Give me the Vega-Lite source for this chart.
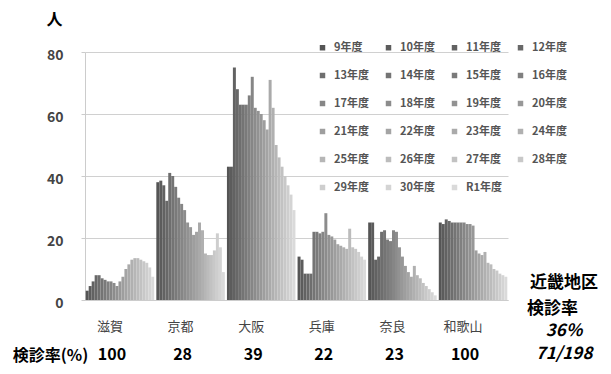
{
  "$schema": "https://vega.github.io/schema/vega-lite/v6.json",
  "width": 423,
  "height": 248,
  "autosize": {"type": "none"},
  "padding": {"left": 85, "top": 52, "right": 103, "bottom": 74},
  "background": "white",
  "config": {"font": "Noto Sans CJK JP", "view": {"stroke": null}},
  "datasets": {
    "counts": [
      {"pref":"滋賀","year":"9年度","v":3},{"pref":"滋賀","year":"10年度","v":4.5},{"pref":"滋賀","year":"11年度","v":6},{"pref":"滋賀","year":"12年度","v":8},{"pref":"滋賀","year":"13年度","v":8},{"pref":"滋賀","year":"14年度","v":7},{"pref":"滋賀","year":"15年度","v":6.5},{"pref":"滋賀","year":"16年度","v":6},{"pref":"滋賀","year":"17年度","v":6},{"pref":"滋賀","year":"18年度","v":5.5},{"pref":"滋賀","year":"19年度","v":4.5},{"pref":"滋賀","year":"20年度","v":6},{"pref":"滋賀","year":"21年度","v":7.5},{"pref":"滋賀","year":"22年度","v":10},{"pref":"滋賀","year":"23年度","v":11.5},{"pref":"滋賀","year":"24年度","v":13},{"pref":"滋賀","year":"25年度","v":13.5},{"pref":"滋賀","year":"26年度","v":13.5},{"pref":"滋賀","year":"27年度","v":13},{"pref":"滋賀","year":"28年度","v":12.5},{"pref":"滋賀","year":"29年度","v":12},{"pref":"滋賀","year":"30年度","v":10.5},{"pref":"滋賀","year":"R1年度","v":7.5},
      {"pref":"京都","year":"9年度","v":38},{"pref":"京都","year":"10年度","v":38.5},{"pref":"京都","year":"11年度","v":37},{"pref":"京都","year":"12年度","v":32},{"pref":"京都","year":"13年度","v":41},{"pref":"京都","year":"14年度","v":40},{"pref":"京都","year":"15年度","v":36.5},{"pref":"京都","year":"16年度","v":33},{"pref":"京都","year":"17年度","v":31},{"pref":"京都","year":"18年度","v":29},{"pref":"京都","year":"19年度","v":25},{"pref":"京都","year":"20年度","v":23.5},{"pref":"京都","year":"21年度","v":21},{"pref":"京都","year":"22年度","v":22},{"pref":"京都","year":"23年度","v":25},{"pref":"京都","year":"24年度","v":22.5},{"pref":"京都","year":"25年度","v":15},{"pref":"京都","year":"26年度","v":14.5},{"pref":"京都","year":"27年度","v":14.5},{"pref":"京都","year":"28年度","v":16},{"pref":"京都","year":"29年度","v":21.5},{"pref":"京都","year":"30年度","v":17},{"pref":"京都","year":"R1年度","v":9},
      {"pref":"大阪","year":"9年度","v":43},{"pref":"大阪","year":"10年度","v":43},{"pref":"大阪","year":"11年度","v":75},{"pref":"大阪","year":"12年度","v":68},{"pref":"大阪","year":"13年度","v":63},{"pref":"大阪","year":"14年度","v":63},{"pref":"大阪","year":"15年度","v":63},{"pref":"大阪","year":"16年度","v":66},{"pref":"大阪","year":"17年度","v":72},{"pref":"大阪","year":"18年度","v":62},{"pref":"大阪","year":"19年度","v":61},{"pref":"大阪","year":"20年度","v":60},{"pref":"大阪","year":"21年度","v":58},{"pref":"大阪","year":"22年度","v":55},{"pref":"大阪","year":"23年度","v":71},{"pref":"大阪","year":"24年度","v":62},{"pref":"大阪","year":"25年度","v":50},{"pref":"大阪","year":"26年度","v":46},{"pref":"大阪","year":"27年度","v":43},{"pref":"大阪","year":"28年度","v":40},{"pref":"大阪","year":"29年度","v":37},{"pref":"大阪","year":"30年度","v":34},{"pref":"大阪","year":"R1年度","v":29},
      {"pref":"兵庫","year":"9年度","v":14},{"pref":"兵庫","year":"10年度","v":13},{"pref":"兵庫","year":"11年度","v":8.5},{"pref":"兵庫","year":"12年度","v":8.5},{"pref":"兵庫","year":"13年度","v":8.5},{"pref":"兵庫","year":"14年度","v":22},{"pref":"兵庫","year":"15年度","v":22},{"pref":"兵庫","year":"16年度","v":21.5},{"pref":"兵庫","year":"17年度","v":22},{"pref":"兵庫","year":"18年度","v":28},{"pref":"兵庫","year":"19年度","v":21},{"pref":"兵庫","year":"20年度","v":20.5},{"pref":"兵庫","year":"21年度","v":19.5},{"pref":"兵庫","year":"22年度","v":18},{"pref":"兵庫","year":"23年度","v":17.5},{"pref":"兵庫","year":"24年度","v":17},{"pref":"兵庫","year":"25年度","v":16.5},{"pref":"兵庫","year":"26年度","v":23},{"pref":"兵庫","year":"27年度","v":17},{"pref":"兵庫","year":"28年度","v":16.5},{"pref":"兵庫","year":"29年度","v":15.5},{"pref":"兵庫","year":"30年度","v":14},{"pref":"兵庫","year":"R1年度","v":13},
      {"pref":"奈良","year":"9年度","v":25},{"pref":"奈良","year":"10年度","v":25},{"pref":"奈良","year":"11年度","v":13},{"pref":"奈良","year":"12年度","v":14},{"pref":"奈良","year":"13年度","v":22},{"pref":"奈良","year":"14年度","v":22.5},{"pref":"奈良","year":"15年度","v":19.5},{"pref":"奈良","year":"16年度","v":19},{"pref":"奈良","year":"17年度","v":22.5},{"pref":"奈良","year":"18年度","v":22},{"pref":"奈良","year":"19年度","v":17},{"pref":"奈良","year":"20年度","v":14},{"pref":"奈良","year":"21年度","v":11},{"pref":"奈良","year":"22年度","v":9},{"pref":"奈良","year":"23年度","v":7.5},{"pref":"奈良","year":"24年度","v":11},{"pref":"奈良","year":"25年度","v":8},{"pref":"奈良","year":"26年度","v":7},{"pref":"奈良","year":"27年度","v":5.5},{"pref":"奈良","year":"28年度","v":4.5},{"pref":"奈良","year":"29年度","v":3.5},{"pref":"奈良","year":"30年度","v":2.5},{"pref":"奈良","year":"R1年度","v":1.5},
      {"pref":"和歌山","year":"9年度","v":25},{"pref":"和歌山","year":"10年度","v":24.5},{"pref":"和歌山","year":"11年度","v":26},{"pref":"和歌山","year":"12年度","v":25.5},{"pref":"和歌山","year":"13年度","v":25},{"pref":"和歌山","year":"14年度","v":25},{"pref":"和歌山","year":"15年度","v":25},{"pref":"和歌山","year":"16年度","v":25},{"pref":"和歌山","year":"17年度","v":25},{"pref":"和歌山","year":"18年度","v":24.5},{"pref":"和歌山","year":"19年度","v":24.5},{"pref":"和歌山","year":"20年度","v":24},{"pref":"和歌山","year":"21年度","v":16},{"pref":"和歌山","year":"22年度","v":15},{"pref":"和歌山","year":"23年度","v":14.5},{"pref":"和歌山","year":"24年度","v":15.5},{"pref":"和歌山","year":"25年度","v":12},{"pref":"和歌山","year":"26年度","v":11.5},{"pref":"和歌山","year":"27年度","v":10},{"pref":"和歌山","year":"28年度","v":9.5},{"pref":"和歌山","year":"29年度","v":8.5},{"pref":"和歌山","year":"30年度","v":8},{"pref":"和歌山","year":"R1年度","v":7.5}
    ],
    "rates": [
      {"pref":"滋賀","rate":"100"},{"pref":"京都","rate":"28"},{"pref":"大阪","rate":"39"},{"pref":"兵庫","rate":"22"},{"pref":"奈良","rate":"23"},{"pref":"和歌山","rate":"100"}
    ],
    "summary": [
      {"area":"近畿地区","label":"検診率","rate":"36%","frac":"71/198"}
    ]
  },
  "layer": [
    {
      "data": {"name": "counts"},
      "mark": {"type": "bar"},
      "encoding": {
        "x": {
          "field": "pref", "type": "nominal",
          "sort": ["滋賀","京都","大阪","兵庫","奈良","和歌山"],
          "scale": {"paddingInner": 0.03, "paddingOuter": 0.01},
          "axis": {
            "title": "検診率(%)", "titleX": -35, "titleY": 55, "titleFontSize": 16, "titleFontWeight": "bold",
            "titleColor": "#000", "titleAlign": "center", "titleBaseline": "middle",
            "labelFontSize": 13, "labelColor": "#444", "labelPadding": 20, "labelOffset": -10,
            "labelAngle": 0, "ticks": false, "domainColor": "#cccccc"
          }
        },
        "xOffset": {
          "field": "year", "type": "nominal",
          "sort": ["9年度","10年度","11年度","12年度","13年度","14年度","15年度","16年度","17年度","18年度","19年度","20年度","21年度","22年度","23年度","24年度","25年度","26年度","27年度","28年度","29年度","30年度","R1年度"],
          "scale": {"paddingInner": 0, "paddingOuter": 0}
        },
        "y": {
          "field": "v", "type": "quantitative",
          "scale": {"domain": [0, 80], "nice": false},
          "axis": {
            "title": "人", "titleAngle": 0, "titleX": -31, "titleY": -33, "titleAlign": "center", "titleBaseline": "middle",
            "titleFontSize": 16, "titleFontWeight": "bold", "titleColor": "#000",
            "values": [0, 20, 40, 60, 80], "labelFontSize": 14, "labelFontWeight": "bold", "labelColor": "#444",
            "labelPadding": 18, "tickSize": 4, "tickColor": "#cccccc", "domainColor": "#cccccc",
            "gridColor": "#d0d0d0", "labelOffset": 3
          }
        },
        "color": {
          "field": "year", "type": "nominal",
          "scale": {
            "domain": ["9年度","10年度","11年度","12年度","13年度","14年度","15年度","16年度","17年度","18年度","19年度","20年度","21年度","22年度","23年度","24年度","25年度","26年度","27年度","28年度","29年度","30年度","R1年度"],
            "range": ["#555555","#5c5c5c","#626262","#686868","#6e6e6e","#747474","#7a7a7a","#808080","#868686","#8c8c8c","#929292","#989898","#9e9e9e","#a4a4a4","#aaaaaa","#b0b0b0","#b6b6b6","#bcbcbc","#c2c2c2","#c8c8c8","#cecece","#d4d4d4","#dadada"]
          },
          "legend": {
            "title": null, "orient": "none", "direction": "horizontal", "legendX": 232, "legendY": -10, "columns": 4,
            "symbolType": "square", "symbolSize": 30, "labelFontSize": 11, "labelFontWeight": "bold",
            "labelColor": "#555", "rowPadding": 16, "columnPadding": 13, "gridAlign": "all", "labelOffset": 6
          }
        }
      }
    },
    {
      "data": {"name": "rates"},
      "mark": {"type": "text", "fontSize": 16, "fontWeight": "bold", "color": "#000", "dx": -8, "baseline": "middle"},
      "encoding": {
        "x": {"field": "pref", "type": "nominal", "sort": ["滋賀","京都","大阪","兵庫","奈良","和歌山"]},
        "y": {"datum": -17.7},
        "text": {"field": "rate"}
      }
    },
    {
      "data": {"name": "summary"},
      "mark": {"type": "text", "fontSize": 17, "fontWeight": "bold", "color": "#000", "dx": 91, "align": "center", "baseline": "middle"},
      "encoding": {"x": {"datum": "和歌山"}, "y": {"datum": 5.6}, "text": {"field": "area"}}
    },
    {
      "data": {"name": "summary"},
      "mark": {"type": "text", "fontSize": 17, "fontWeight": "bold", "color": "#000", "dx": 54, "align": "left", "baseline": "middle"},
      "encoding": {"x": {"datum": "和歌山"}, "y": {"datum": -2.8}, "text": {"field": "label"}}
    },
    {
      "data": {"name": "summary"},
      "mark": {"type": "text", "fontSize": 17, "fontWeight": "bold", "fontStyle": "italic", "color": "#000", "dx": 91, "align": "center", "baseline": "middle"},
      "encoding": {"x": {"datum": "和歌山"}, "y": {"datum": -10}, "text": {"field": "rate"}}
    },
    {
      "data": {"name": "summary"},
      "mark": {"type": "text", "fontSize": 17, "fontWeight": "bold", "fontStyle": "italic", "color": "#000", "dx": 91, "align": "center", "baseline": "middle"},
      "encoding": {"x": {"datum": "和歌山"}, "y": {"datum": -17.5}, "text": {"field": "frac"}}
    }
  ]
}
